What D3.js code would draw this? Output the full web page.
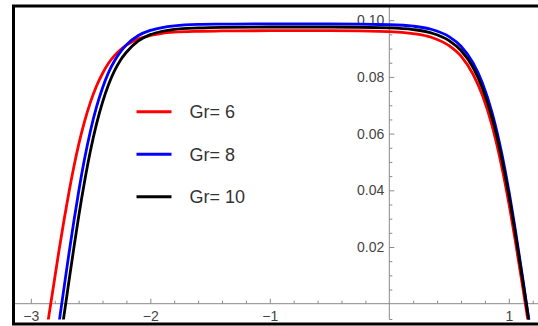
<!DOCTYPE html>
<html>
<head>
<meta charset="utf-8">
<script src="https://cdn.jsdelivr.net/npm/d3@7"></script>
<style>
  html, body { margin: 0; padding: 0; background: #fff; }
  svg { display: block; }
  text { font-family: "Liberation Sans", Arial, sans-serif; }
</style>
</head>
<body>
<svg id="chart" width="538" height="326"></svg>
<script>
// Profiles for three Grashof numbers
const seriesNames = ["Gr= 6", "Gr= 8", "Gr= 10"];
const seriesColors = ["#ff0000", "#0000ff", "#000000"];

const xGr6 = [-2.86,-2.84,-2.80,-2.76,-2.72,-2.68,-2.64,-2.60,-2.55,-2.50,-2.45,-2.40,-2.35,-2.30,-2.25,-2.20,-2.10,-2.00,-1.90,-1.80,-1.60,-1.40,-1.00,-0.50,0,0.20,0.35,0.50,0.60,0.70,0.78,0.86,0.94,1.00,1.06,1.12,1.16,1.17];
const yGr6 = [-0.0074,-0.0019,0.0090,0.0198,0.0300,0.0395,0.0482,0.0560,0.0643,0.0712,0.0768,0.0812,0.0848,0.0875,0.0896,0.0912,0.0934,0.0946,0.0954,0.0958,0.0961,0.0962,0.0963,0.0963,0.0960,0.0953,0.0940,0.0910,0.0873,0.0810,0.0734,0.0628,0.0485,0.0355,0.0207,0.0049,-0.0059,-0.0086];

const xGr8 = [-2.765,-2.74,-2.72,-2.68,-2.64,-2.60,-2.55,-2.50,-2.45,-2.40,-2.35,-2.30,-2.25,-2.20,-2.10,-2.00,-1.90,-1.80,-1.60,-1.40,-1.00,-0.50,0,0.20,0.35,0.50,0.60,0.70,0.78,0.86,0.94,1.00,1.06,1.12,1.16,1.18];
const yGr8 = [-0.0071,0.0003,0.0062,0.0179,0.0290,0.0394,0.0511,0.0611,0.0694,0.0761,0.0815,0.0856,0.0888,0.0913,0.0946,0.0964,0.0974,0.0980,0.0985,0.0986,0.0987,0.0987,0.0984,0.0979,0.0968,0.0942,0.0908,0.0850,0.0778,0.0674,0.0532,0.0399,0.0246,0.0080,-0.0034,-0.0091];

const xGr10 = [-2.73,-2.70,-2.68,-2.64,-2.60,-2.55,-2.50,-2.45,-2.40,-2.35,-2.30,-2.25,-2.20,-2.10,-2.00,-1.90,-1.80,-1.60,-1.40,-1.00,-0.50,0,0.20,0.35,0.50,0.60,0.70,0.78,0.86,0.94,1.00,1.06,1.12,1.16,1.18];
const yGr10 = [-0.0064,0.0023,0.0082,0.0196,0.0306,0.0431,0.0541,0.0634,0.0710,0.0772,0.0821,0.0859,0.0887,0.0927,0.0949,0.0961,0.0968,0.0973,0.0975,0.0976,0.0976,0.0973,0.0967,0.0955,0.0928,0.0893,0.0834,0.0760,0.0656,0.0515,0.0384,0.0234,0.0072,-0.0039,-0.0094];

const xMajorTicks = [-3, -2, -1, 1];
const yMajorTicks = [0.02, 0.04, 0.06, 0.08, 0.10];

const seriesX = [xGr6, xGr8, xGr10];
const seriesY = [yGr6, yGr8, yGr10];

const svg = d3.select("#chart");

// Visible plot region inside the frame
const frame = { left: 15, top: 7, right: 538, bottom: 319.5 };

const x = d3.scaleLinear().domain([-3, 1]).range([30.8, 508.8]);
const y = d3.scaleLinear().domain([0, 0.1]).range([303.7, 20.2]);

svg.append("defs").append("clipPath").attr("id", "plotClip")
  .append("rect")
  .attr("x", frame.left).attr("y", frame.top)
  .attr("width", frame.right - frame.left).attr("height", frame.bottom - frame.top);

const axisColor = "#8a8a8a";
const labelColor = "#444";

// Axis lines crossing at the origin
svg.append("line")
  .attr("x1", frame.left).attr("x2", frame.right)
  .attr("y1", y(0)).attr("y2", y(0))
  .attr("stroke", axisColor).attr("stroke-width", 1);
svg.append("line")
  .attr("x1", x(0)).attr("x2", x(0))
  .attr("y1", frame.top).attr("y2", frame.bottom)
  .attr("stroke", axisColor).attr("stroke-width", 1);
svg.append("line")
  .attr("x1", x(0)).attr("x2", x(0) + 3)
  .attr("y1", frame.bottom).attr("y2", frame.bottom)
  .attr("stroke", axisColor).attr("stroke-width", 1);

// Minor ticks on x
const xMinor = d3.range(-15, 7).map(i => +(i * 0.2).toFixed(2)).filter(v => !xMajorTicks.includes(v) && v !== 0);
svg.append("g")
  .attr("transform", `translate(0,${y(0)})`)
  .call(d3.axisBottom(x).tickValues(xMinor).tickSizeInner(-3).tickSizeOuter(0).tickFormat(""))
  .call(g => g.select(".domain").remove())
  .call(g => g.selectAll("line").attr("stroke", axisColor));

// Major ticks and labels on x
svg.append("g")
  .attr("transform", `translate(0,${y(0)})`)
  .call(d3.axisBottom(x).tickValues(xMajorTicks).tickSizeInner(-5).tickSizeOuter(0).tickPadding(7)
    .tickFormat(d => d < 0 ? "\u2212" + Math.abs(d) : String(d)))
  .call(g => g.select(".domain").remove())
  .call(g => g.selectAll("line").attr("stroke", axisColor))
  .call(g => g.selectAll("text").attr("fill", labelColor).style("font-size", "14px")
    .style("font-family", "'Liberation Sans', Arial, sans-serif"));

// Minor ticks on y
const yMinor = d3.range(1, 21).map(i => +(i * 0.005).toFixed(3)).filter(v => !yMajorTicks.some(m => Math.abs(m - v) < 1e-9));
svg.append("g")
  .attr("transform", `translate(${x(0)},0)`)
  .call(d3.axisLeft(y).tickValues(yMinor).tickSizeInner(-3).tickSizeOuter(0).tickFormat(""))
  .call(g => g.select(".domain").remove())
  .call(g => g.selectAll("line").attr("stroke", axisColor));

// Major ticks and labels on y
svg.append("g")
  .attr("transform", `translate(${x(0)},0)`)
  .call(d3.axisLeft(y).tickValues(yMajorTicks).tickSizeInner(-5).tickSizeOuter(0).tickPadding(5)
    .tickFormat(d3.format(".2f")))
  .call(g => g.select(".domain").remove())
  .call(g => g.selectAll("line").attr("stroke", axisColor))
  .call(g => g.selectAll("text").attr("fill", labelColor).style("font-size", "14px")
    .style("font-family", "'Liberation Sans', Arial, sans-serif"));

// Curves
const line = d3.line()
  .x(d => x(d[0]))
  .y(d => y(d[1]))
  .curve(d3.curveMonotoneX);

const plot = svg.append("g").attr("clip-path", "url(#plotClip)");
seriesNames.forEach((name, i) => {
  const pts = seriesX[i].map((v, j) => [v, seriesY[i][j]]);
  plot.append("path")
    .datum(pts)
    .attr("fill", "none")
    .attr("stroke", seriesColors[i])
    .attr("stroke-width", 2.8)
    .attr("stroke-linejoin", "round")
    .attr("d", line);
});

// Legend
const legend = svg.append("g");
const legendY = d3.scalePoint().domain(seriesNames).range([111.7, 196.7]);
seriesNames.forEach((name, i) => {
  const ly = legendY(name);
  legend.append("line")
    .attr("x1", 136.5).attr("x2", 171.5)
    .attr("y1", ly).attr("y2", ly)
    .attr("stroke", seriesColors[i]).attr("stroke-width", 3);
  legend.append("text")
    .attr("x", 189.5).attr("y", ly)
    .attr("dy", "0.36em")
    .attr("fill", "#333")
    .style("font-size", "18px")
    .text(name);
});

// Outer frame
svg.append("rect")
  .attr("x", 13.5).attr("y", 6)
  .attr("width", 600).attr("height", 318)
  .attr("fill", "none")
  .attr("stroke", "#000")
  .attr("stroke-width", 3);
</script>
</body>
</html>
